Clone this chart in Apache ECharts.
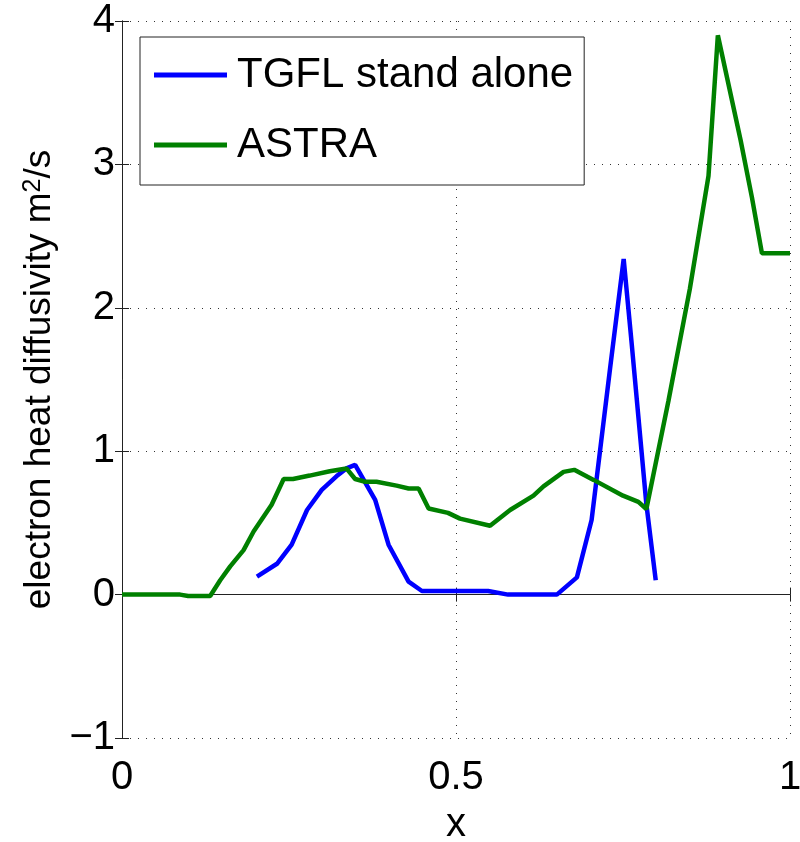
<!DOCTYPE html>
<html>
<head>
<meta charset="utf-8">
<script src="https://cdn.jsdelivr.net/npm/echarts@6/dist/echarts.min.js"></script>
<style>
  html, body { margin: 0; padding: 0; background: #fff; }
  #chart { width: 800px; height: 842px; }
</style>
</head>
<body>
<div id="chart"></div>
<script>
// ASTRA profile
const astraX = [0, 0.087, 0.099, 0.132, 0.147, 0.162, 0.182, 0.197, 0.224, 0.242, 0.256, 0.281, 0.311, 0.336, 0.349, 0.364, 0.381, 0.411, 0.429, 0.444, 0.459, 0.488, 0.506, 0.551, 0.581, 0.616, 0.631, 0.661, 0.677, 0.706, 0.75, 0.773, 0.785, 0.818, 0.85, 0.878, 0.892, 0.926, 0.943, 0.958, 1.0]
const astraY = [0, 0, -0.01, -0.01, 0.1, 0.197, 0.31, 0.44, 0.627, 0.806, 0.806, 0.83, 0.86, 0.88, 0.806, 0.787, 0.787, 0.76, 0.74, 0.74, 0.6, 0.57, 0.53, 0.48, 0.59, 0.69, 0.755, 0.856, 0.87, 0.8, 0.69, 0.647, 0.597, 1.35, 2.13, 2.92, 3.9, 3.17, 2.77, 2.38, 2.38]

// TGFL stand alone profile
const tgflX = [0.202, 0.232, 0.254, 0.277, 0.299, 0.321, 0.336, 0.349, 0.379, 0.399, 0.429, 0.449, 0.548, 0.578, 0.651, 0.681, 0.703, 0.731, 0.751, 0.763, 0.785, 0.799]
const tgflY = [0.126, 0.215, 0.348, 0.59, 0.73, 0.825, 0.88, 0.905, 0.66, 0.348, 0.09, 0.025, 0.025, 0, 0, 0.12, 0.52, 1.59, 2.34, 1.75, 0.63, 0.1]

const seriesNames = ['TGFL stand alone', 'ASTRA']

const pairs = (xs, ys) => xs.map((x, i) => [x, ys[i]])
const font = 'Liberation Sans, Arial, sans-serif'
const minus = v => (v < 0 ? '\u2212' + Math.abs(v) : String(v))

const chart = echarts.init(document.getElementById('chart'))

const hiddenAxis = {
  axisLine: { show: true, lineStyle: { color: '#222', width: 1 } },
  axisTick: { show: true, inside: true, length: 7, lineStyle: { color: '#222' } },
  axisLabel: { show: false },
  splitLine: { show: false }
}

chart.setOption({
  animation: false,
  backgroundColor: '#fff',
  grid: { left: 122, right: 10, top: 21, bottom: 104, outerBoundsMode: 'none' },
  legend: {
    left: 140,
    top: 37,
    orient: 'vertical',
    data: seriesNames,
    icon: 'path://M0,0 L73,0 L73,5 L0,5 Z',
    backgroundColor: '#fff',
    borderColor: '#222',
    borderWidth: 1,
    borderRadius: 0,
    padding: [17, 11, 19, 14],
    itemGap: 28,
    itemWidth: 73,
    itemHeight: 5,
    textStyle: { fontFamily: font, fontSize: 42, color: '#000', lineHeight: 42, padding: [0, 0, 0, 5] }
  },
  xAxis: [
    {
      type: 'value',
      min: 0,
      max: 1,
      interval: 0.5,
      name: 'x',
      nameLocation: 'middle',
      nameGap: 67,
      nameTextStyle: { fontFamily: font, fontSize: 40, color: '#000' },
      axisLine: { show: true, lineStyle: { color: '#222', width: 1 } },
      axisTick: { show: true, inside: true, length: 7, lineStyle: { color: '#222' } },
      axisLabel: { fontFamily: font, fontSize: 40, color: '#000', margin: 20, formatter: v => minus(v) },
      splitLine: { show: true, lineStyle: { color: '#333', type: [1, 7], width: 1 } }
    },
    Object.assign({ type: 'value', position: 'top', min: 0, max: 1, interval: 0.5 }, hiddenAxis)
  ],
  yAxis: [
    {
      type: 'value',
      min: -1,
      max: 4,
      interval: 1,
      name: 'electron heat diffusivity m{sup|2}/s',
      nameLocation: 'middle',
      nameGap: 60,
      nameTextStyle: {
        fontFamily: font,
        fontSize: 37,
        color: '#000',
        padding: [0, 0, 0, 0],
        rich: { sup: { fontFamily: font, fontSize: 25, verticalAlign: 'top', padding: [0, 0, 14, 0] } }
      },
      axisLine: { show: true, lineStyle: { color: '#222', width: 1 } },
      axisTick: { show: true, inside: true, length: 7, lineStyle: { color: '#222' } },
      axisLabel: { fontFamily: font, fontSize: 40, color: '#000', margin: 7, formatter: v => minus(v) },
      splitLine: { show: true, lineStyle: { color: '#333', type: [1, 7], width: 1 } }
    },
    Object.assign({ type: 'value', position: 'right', min: -1, max: 4, interval: 1 }, hiddenAxis)
  ],
  series: [
    {
      name: seriesNames[0],
      type: 'line',
      data: pairs(tgflX, tgflY),
      symbol: 'none',
      color: '#0000ff',
      lineStyle: { width: 4.5, color: '#0000ff' }
    },
    {
      name: seriesNames[1],
      type: 'line',
      data: pairs(astraX, astraY),
      symbol: 'none',
      color: '#008000',
      lineStyle: { width: 4.5, color: '#008000' }
    }
  ]
})
</script>
</body>
</html>
